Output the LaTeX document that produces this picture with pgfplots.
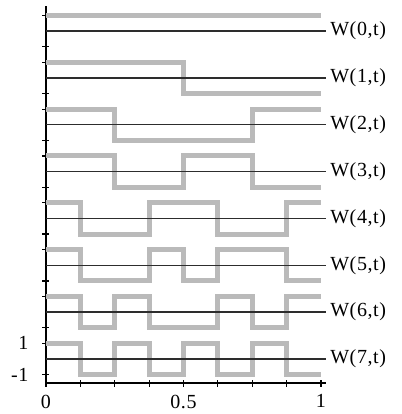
\documentclass[border=0pt]{standalone}
\usepackage{fontspec}
\setmainfont{Liberation Serif}[LetterSpace=3]
\usepackage{pgfplots}
\pgfplotsset{compat=1.18}
\definecolor{wgray}{RGB}{186,186,186}
\definecolor{wdark}{RGB}{45,45,45}
\begin{document}
\begin{tikzpicture}
\begin{axis}[
  scale only axis,
  width=280.5bp, height=377bp,
  xmin=0, xmax=1.02, ymin=-1.54, ymax=22.6,
  axis x line=bottom, axis y line=left,
  axis line style={-, line width=1.2bp, black},
  tick align=center, major tick length=7bp,
  tick style={line width=1.2bp, black},
  xtick={0,0.125,0.25,0.375,0.5,0.625,0.75,0.875,1},
  xticklabels={0,,,,0.5,,,,1},
  ytick={-1,1,2,4,5,7,8,10,11,13,14,16,17,19,20,22},
  yticklabels={-1,1,,,,,,,,,,,,,,},
  xticklabel style={font=\fontsize{20bp}{23bp}\selectfont, inner sep=0pt, anchor=north, yshift=-8bp},
  yticklabel style={font=\fontsize{20bp}{23bp}\selectfont, inner sep=0pt, anchor=east, xshift=-14bp},
  clip=false,
]
% Walsh functions (gray steps), centres at 21,18,...,0
\addplot[const plot, wgray, line width=5bp, line join=miter] coordinates {(0,22)(1,22)};
\addplot[const plot, wgray, line width=5bp, line join=miter] coordinates {(0,19)(0.5,17)(1,17)};
\addplot[const plot, wgray, line width=5bp, line join=miter] coordinates {(0,16)(0.25,14)(0.75,16)(1,16)};
\addplot[const plot, wgray, line width=5bp, line join=miter] coordinates {(0,13)(0.25,11)(0.5,13)(0.75,11)(1,11)};
\addplot[const plot, wgray, line width=5bp, line join=miter] coordinates {(0,10)(0.125,8)(0.375,10)(0.625,8)(0.875,10)(1,10)};
\addplot[const plot, wgray, line width=5bp, line join=miter] coordinates {(0,7)(0.125,5)(0.375,7)(0.5,5)(0.625,7)(0.875,5)(1,5)};
\addplot[const plot, wgray, line width=5bp, line join=miter] coordinates {(0,4)(0.125,2)(0.25,4)(0.375,2)(0.625,4)(0.75,2)(0.875,4)(1,4)};
\addplot[const plot, wgray, line width=5bp, line join=miter] coordinates {(0,1)(0.125,-1)(0.25,1)(0.375,-1)(0.5,1)(0.625,-1)(0.75,1)(0.875,-1)(1,-1)};
% centre lines
\addplot[wdark, line width=1.3bp] coordinates {(0,21)(1.02,21)};
\addplot[wdark, line width=1.3bp] coordinates {(0,18)(1.02,18)};
\addplot[wdark, line width=1.3bp] coordinates {(0,15)(1.02,15)};
\addplot[wdark, line width=1.3bp] coordinates {(0,12)(1.02,12)};
\addplot[wdark, line width=1.3bp] coordinates {(0,9)(1.02,9)};
\addplot[wdark, line width=1.3bp] coordinates {(0,6)(1.02,6)};
\addplot[wdark, line width=1.3bp] coordinates {(0,3)(1.02,3)};
\addplot[wdark, line width=1.3bp] coordinates {(0,0)(1.02,0)};
\foreach \k/\c in {0/21,1/18,2/15,3/12,4/9,5/6,6/3,7/0}{
  \edef\temp{\noexpand\node[anchor=west, inner sep=0pt, font=\noexpand\fontsize{20bp}{23bp}\noexpand\selectfont] at (axis cs:1.033,\c) {W(\k,t)};}
  \temp
}
\coordinate (bl) at (axis cs:-0.16727,-3.5218);
\coordinate (tr) at (axis cs:1.29455,22.988);
\end{axis}
\pgfresetboundingbox
\path[use as bounding box] (bl) rectangle (tr);
\end{tikzpicture}
\end{document}
